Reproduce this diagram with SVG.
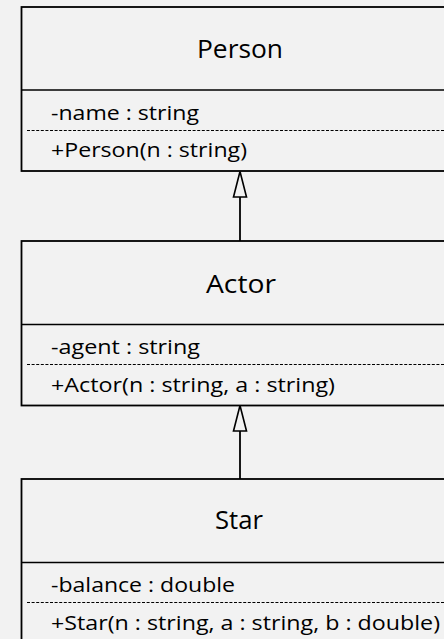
<svg xmlns="http://www.w3.org/2000/svg" width="444" height="639" viewBox="0 0 444 639">
<style>
.box{fill:#f2f2f2;stroke:#000;stroke-width:1.8}
.sep{stroke:#000;stroke-width:1.6;fill:none}
.dash{stroke:#000;stroke-width:1.2;stroke-dasharray:3 1.6;fill:none}
.title{font-family:"Open Sans","Noto Sans",sans-serif;font-size:26px;fill:#000}
.mem{font-family:"Open Sans","Noto Sans",sans-serif;font-size:19.5px;fill:#000}
.conn{stroke:#000;stroke-width:1.8;fill:none}
.head{fill:#f2f2f2;stroke:#000;stroke-width:1.6}
</style>
<rect width="444" height="639" fill="#f2f2f2"/>
<g id="person">
<rect class="box" x="21.5" y="7" width="440" height="164"/>
<line class="sep" x1="21.5" y1="90" x2="444" y2="90"/>
<line class="dash" x1="27" y1="130.5" x2="444" y2="130.5"/>
<text class="title" x="197" y="58" textLength="86" lengthAdjust="spacingAndGlyphs">Person</text>
<text class="mem" x="51" y="120" textLength="148" lengthAdjust="spacingAndGlyphs">-name : string</text>
<text class="mem" x="51" y="157" textLength="196" lengthAdjust="spacingAndGlyphs">+Person(n : string)</text>
</g>
<g id="actor">
<rect class="box" x="21.5" y="241" width="440" height="164.5"/>
<line class="sep" x1="21.5" y1="324.5" x2="444" y2="324.5"/>
<line class="dash" x1="27" y1="364.5" x2="444" y2="364.5"/>
<text class="title" x="206" y="293" textLength="70" lengthAdjust="spacingAndGlyphs">Actor</text>
<text class="mem" x="51" y="354" textLength="149" lengthAdjust="spacingAndGlyphs">-agent : string</text>
<text class="mem" x="51" y="391.5" textLength="284" lengthAdjust="spacingAndGlyphs">+Actor(n : string, a : string)</text>
</g>
<g id="star">
<rect class="box" x="21.5" y="479" width="440" height="180"/>
<line class="sep" x1="21.5" y1="562.5" x2="444" y2="562.5"/>
<line class="dash" x1="27" y1="602.5" x2="444" y2="602.5"/>
<text class="title" x="215" y="529" textLength="48" lengthAdjust="spacingAndGlyphs">Star</text>
<text class="mem" x="51" y="591.5" textLength="184" lengthAdjust="spacingAndGlyphs">-balance : double</text>
<text class="mem" x="51" y="630" textLength="389" lengthAdjust="spacingAndGlyphs">+Star(n : string, a : string, b : double)</text>
</g>
<g id="connectors">
<line class="conn" x1="240" y1="197" x2="240" y2="241"/>
<polygon class="head" points="240,171.5 246.5,197 233.5,197"/>
<line class="conn" x1="240" y1="431" x2="240" y2="479"/>
<polygon class="head" points="240,405.5 246.5,431 233.5,431"/>
</g>
</svg>
